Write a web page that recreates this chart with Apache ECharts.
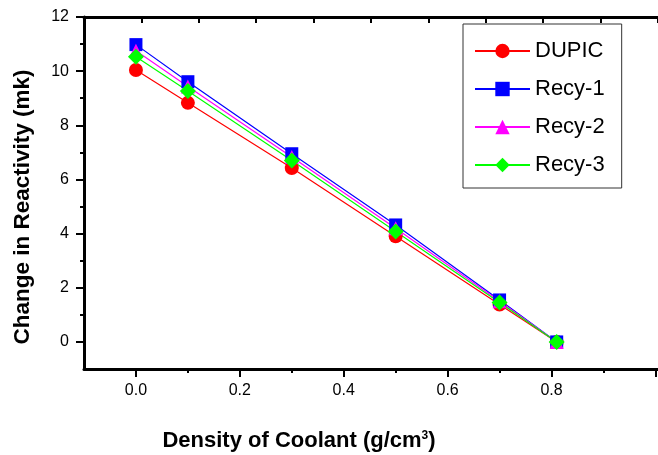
<!DOCTYPE html>
<html>
<head>
<meta charset="utf-8">
<script src="https://cdn.jsdelivr.net/npm/echarts@6/dist/echarts.min.js"></script>
<style>
  html, body { margin: 0; padding: 0; background: #fff; }
  #chart { width: 658px; height: 455px; }
</style>
</head>
<body>
<div id="chart"></div>
<script>
const density = [0, 0.1, 0.3, 0.5, 0.7, 0.81]
const dupic = [10.04, 8.83, 6.42, 3.9, 1.38, 0]
const recy1 = [10.98, 9.61, 6.95, 4.32, 1.55, 0]
const recy2 = [10.75, 9.43, 6.83, 4.2, 1.5, 0]
const recy3 = [10.53, 9.27, 6.7, 4.08, 1.46, 0]

const xMajor = [0, 0.2, 0.4, 0.6, 0.8, 1.0]
const xLabels = [0, 0.2, 0.4, 0.6, 0.8]
const xMinor = [0.1, 0.3, 0.5, 0.7, 0.9]
const yMajor = [0, 2, 4, 6, 8, 10, 12]
const yMinor = [1, 3, 5, 7, 9, 11]

const FONT = 'Liberation Sans, Arial, sans-serif'
const X_MIN = -0.1
const X_MAX = 1.005
const Y_MIN = -1
const Y_MAX = 12

const pairs = ys => density.map((x, i) => [x, ys[i]])

const mkSeries = (name, ys, color, symbol, size) => ({
  name,
  type: 'line',
  data: pairs(ys),
  symbol,
  symbolSize: size,
  showSymbol: true,
  color,
  lineStyle: { color, width: 1.2 },
  itemStyle: { color },
  emphasis: { disabled: true },
  animation: false
})

// 隐藏的叠加轴只用来画次刻度
const hiddenAxis = {
  axisLine: { show: false, onZero: false },
  axisLabel: { show: false },
  splitLine: { show: false }
}

const chart = echarts.init(document.getElementById('chart'), null, { renderer: 'canvas' })

chart.setOption({
  backgroundColor: '#fff',
  animation: false,
  grid: { left: 84, top: 17, width: 581, height: 352, containLabel: false },
  xAxis: [
    {
      type: 'value', min: X_MIN, max: X_MAX, position: 'bottom',
      axisLine: { onZero: false, lineStyle: { color: '#000', width: 3 } },
      axisTick: { customValues: xMajor, length: 8, inside: false, lineStyle: { color: '#000', width: 2 } },
      axisLabel: {
        customValues: xLabels, margin: 14, color: '#000', fontSize: 16, fontFamily: FONT,
        formatter: v => v.toFixed(1)
      },
      splitLine: { show: false }
    },
    {
      type: 'value', min: X_MIN, max: X_MAX, position: 'bottom',
      ...hiddenAxis,
      axisTick: { customValues: xMinor, length: 4, lineStyle: { color: '#000', width: 2 } }
    },
    {
      type: 'value', min: 0, max: 10, interval: 1, position: 'top',
      axisLine: { onZero: false, lineStyle: { color: '#000', width: 3 } },
      axisTick: { inside: true, length: 6, lineStyle: { color: '#000', width: 2 } },
      axisLabel: { show: false },
      splitLine: { show: false }
    }
  ],
  yAxis: [
    {
      type: 'value', min: Y_MIN, max: Y_MAX, position: 'left',
      axisLine: { show: true, onZero: false, lineStyle: { color: '#000', width: 3 } },
      axisTick: { show: true, customValues: yMajor, length: 8, lineStyle: { color: '#000', width: 2 } },
      axisLabel: { customValues: yMajor, margin: 15, color: '#000', fontSize: 16, fontFamily: FONT },
      splitLine: { show: false }
    },
    {
      type: 'value', min: Y_MIN, max: Y_MAX, position: 'left',
      ...hiddenAxis,
      axisTick: { show: true, customValues: yMinor, length: 4, lineStyle: { color: '#000', width: 2 } }
    }
  ],
  legend: {
    orient: 'vertical',
    left: 463,
    top: 24,
    padding: [16, 17, 12, 11],
    itemWidth: 55,
    itemHeight: 18,
    itemGap: 16,
    itemTextGap: 7,
    textStyle: { color: '#000', fontSize: 22, fontFamily: FONT, lineHeight: 22 },
    backgroundColor: '#fff',
    borderColor: '#333',
    borderWidth: 1,
    selectedMode: false,
    data: ['DUPIC', 'Recy-1', 'Recy-2', 'Recy-3']
  },
  series: [
    mkSeries('DUPIC', dupic, '#ff0000', 'circle', 14),
    mkSeries('Recy-1', recy1, '#0000ff', 'rect', 13),
    mkSeries('Recy-2', recy2, '#ff00ff', 'triangle', 14),
    mkSeries('Recy-3', recy3, '#00ff00', 'diamond', 16)
  ],
  graphic: [
    {
      type: 'text', x: 299, y: 441,
      style: {
        text: 'Density of Coolant (g/cm{s|3})',
        fontSize: 22, fontWeight: 'bold', fontFamily: FONT, fill: '#000',
        align: 'center', verticalAlign: 'middle',
        rich: {
          s: { fontSize: 12, fontWeight: 'bold', fontFamily: FONT, verticalAlign: 'top', fill: '#000' }
        }
      }
    },
    {
      type: 'text', x: 23, y: 207, rotation: Math.PI / 2,
      style: {
        text: 'Change in Reactivity (mk)',
        fontSize: 22.5, fontWeight: 'bold', fontFamily: FONT, fill: '#000',
        align: 'center', verticalAlign: 'middle'
      }
    }
  ]
})
</script>
</body>
</html>
